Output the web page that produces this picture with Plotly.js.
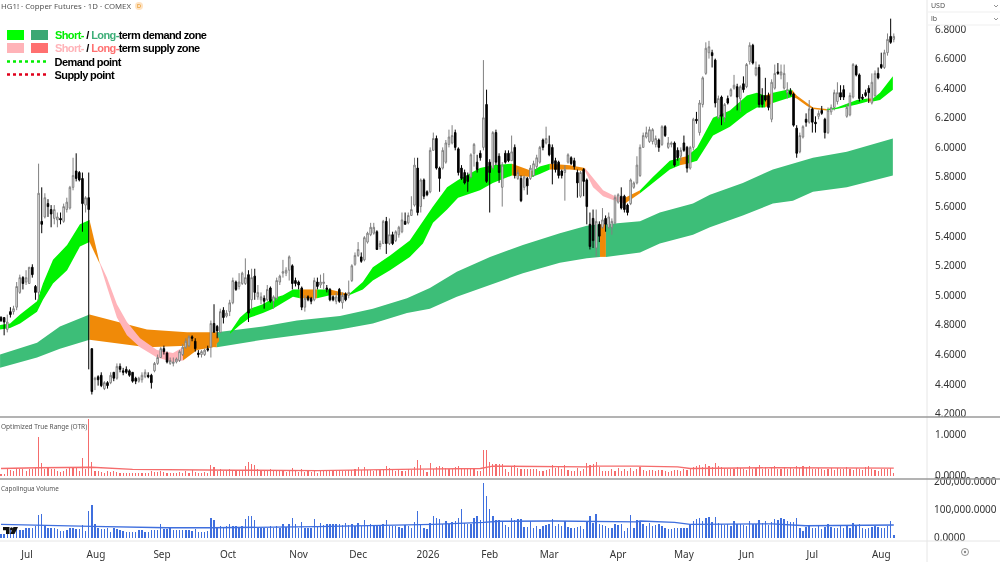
<!DOCTYPE html>
<html><head><meta charset="utf-8">
<script src="https://cdn.plot.ly/plotly-3.0.1.min.js"></script>
<style>html,body{margin:0;padding:0;background:#fff}#c{width:1000px;height:562px;filter:blur(.3px)}
.annotation[data-index="2"] text,.annotation[data-index="3"] text,.annotation[data-index="4"] text,.annotation[data-index="5"] text{letter-spacing:-.6px}</style>
</head><body><div id="c"></div>
<script>
const opens=[4.85,4.85,4.77,4.89,4.89,4.92,5.02,5.12,5.09,5.08,
5.19,5.06,5.02,5.50,5.53,5.62,5.58,5.52,5.51,5.52,
5.50,5.58,5.59,5.73,5.84,5.83,5.79,5.61,5.66,4.64,
4.43,4.45,4.46,4.37,4.41,4.41,4.48,4.44,4.52,4.49,
4.50,4.49,4.48,4.44,4.42,4.43,4.45,4.46,4.46,4.49,
4.54,4.58,4.64,4.61,4.54,4.54,4.55,4.56,4.60,4.65,
4.66,4.72,4.69,4.61,4.60,4.60,4.64,4.65,4.81,4.79,
4.75,4.90,4.86,4.89,4.95,5.09,5.06,5.08,5.08,5.14,
4.97,5.13,4.99,4.97,4.98,4.97,5.05,4.96,4.98,5.09,
5.15,5.15,5.17,5.20,5.10,5.09,5.05,4.92,4.99,4.98,
4.97,5.09,5.07,5.08,5.05,5.04,4.99,4.96,5.04,4.95,
5.01,5.00,5.10,5.21,5.27,5.26,5.24,5.36,5.41,5.42,
5.43,5.33,5.35,5.50,5.35,5.41,5.37,5.41,5.43,5.50,
5.49,5.54,5.61,5.86,5.60,5.78,5.70,5.70,5.98,6.06,
5.86,5.86,5.90,6.02,6.03,6.10,5.99,5.86,5.83,5.81,
5.80,5.96,5.90,5.96,6.00,6.29,5.90,5.86,6.10,5.94,
5.73,5.96,5.96,5.91,6.00,5.79,5.79,5.73,5.79,5.79,
5.81,5.87,5.90,6.05,6.03,6.02,6.00,5.91,5.90,5.84,
5.83,5.90,5.93,5.91,5.83,5.67,5.85,5.78,5.48,5.52,
5.32,5.48,5.46,5.52,5.46,5.46,5.49,5.63,5.67,5.67,
5.61,5.62,5.73,5.76,5.81,6.00,6.07,6.04,6.04,6.02,
6.05,6.02,6.14,6.00,6.02,6.03,5.98,5.94,6.03,6.00,
5.86,6.00,6.19,6.10,6.29,6.50,6.64,6.64,6.59,6.20,
6.34,6.20,6.33,6.35,6.40,6.41,6.33,6.43,6.41,6.58,
6.69,6.49,6.54,6.35,6.35,6.35,6.19,6.40,6.51,6.49,
6.40,6.37,6.38,6.36,6.13,5.97,6.07,6.19,6.17,6.26,
6.17,6.21,6.25,6.19,6.10,6.24,6.27,6.31,6.37,6.39,
6.21,6.22,6.34,6.55,6.49,6.34,6.37,6.40,6.30,6.35,
6.50,6.56,6.54,6.64,6.75,6.73];
const highs=[4.86,4.85,4.87,4.92,4.93,5.09,5.14,5.13,5.17,5.19,
5.21,5.07,5.89,5.73,5.69,5.65,5.61,5.61,5.56,5.56,
5.62,5.66,5.74,5.93,5.96,5.84,5.83,5.67,5.83,4.64,
4.45,4.46,4.48,4.42,4.42,4.48,4.48,4.54,4.54,4.51,
4.52,4.50,4.48,4.45,4.45,4.48,4.50,4.48,4.47,4.55,
4.60,4.65,4.66,4.62,4.58,4.58,4.58,4.63,4.67,4.71,
4.73,4.73,4.71,4.63,4.63,4.64,4.66,4.83,4.94,4.80,
4.91,4.92,4.90,4.97,5.12,5.10,5.15,5.16,5.25,5.17,
5.18,5.18,5.07,5.02,5.00,5.07,5.06,5.00,5.12,5.14,
5.24,5.19,5.27,5.21,5.12,5.10,5.06,5.00,5.00,4.99,
5.12,5.12,5.14,5.15,5.07,5.05,5.00,5.02,5.05,5.02,
5.02,5.10,5.21,5.29,5.36,5.29,5.40,5.43,5.49,5.49,
5.44,5.37,5.51,5.53,5.52,5.43,5.44,5.47,5.56,5.56,
5.56,5.67,5.93,5.93,5.79,5.79,5.71,6.00,6.10,6.08,
5.87,6.00,6.05,6.12,6.15,6.12,6.00,5.88,5.85,5.83,
5.96,6.03,5.95,5.98,6.59,6.39,5.92,6.11,6.12,5.96,
5.90,5.98,5.98,6.08,6.02,5.85,5.81,5.81,5.80,5.88,
5.91,5.95,6.01,6.06,6.14,6.08,6.02,5.93,5.91,5.85,
5.88,5.96,5.94,5.93,5.85,5.84,5.86,5.79,5.56,5.58,
5.58,5.50,5.59,5.54,5.56,5.52,5.68,5.69,5.73,5.68,
5.62,5.79,5.77,5.94,6.02,6.10,6.14,6.14,6.13,6.08,
6.06,6.15,6.15,6.07,6.04,6.04,6.00,6.00,6.08,6.01,
6.01,6.20,6.24,6.32,6.48,6.71,6.72,6.66,6.60,6.35,
6.35,6.30,6.35,6.40,6.49,6.43,6.42,6.48,6.57,6.71,
6.70,6.58,6.56,6.40,6.47,6.37,6.46,6.56,6.57,6.56,
6.56,6.44,6.40,6.37,6.15,6.10,6.15,6.23,6.32,6.27,
6.21,6.25,6.28,6.20,6.27,6.29,6.39,6.44,6.42,6.42,
6.29,6.37,6.57,6.56,6.50,6.36,6.39,6.42,6.50,6.52,
6.54,6.64,6.66,6.77,6.87,6.77];
const lows=[4.82,4.73,4.75,4.85,4.87,4.90,5.01,5.04,5.07,5.08,
5.12,4.97,4.97,5.42,5.52,5.53,5.46,5.48,5.46,5.48,
5.49,5.56,5.58,5.71,5.77,5.77,5.43,5.56,4.50,4.33,
4.36,4.39,4.38,4.36,4.37,4.40,4.42,4.43,4.48,4.46,
4.47,4.45,4.41,4.40,4.41,4.41,4.44,4.44,4.37,4.48,
4.53,4.58,4.60,4.54,4.53,4.52,4.54,4.55,4.59,4.64,
4.65,4.69,4.62,4.58,4.58,4.59,4.62,4.58,4.75,4.71,
4.75,4.81,4.85,4.86,4.94,5.03,5.04,5.07,5.07,4.82,
4.90,4.97,4.97,4.94,4.91,4.96,4.95,4.91,4.97,5.07,
5.12,5.13,5.10,5.04,5.06,5.04,4.90,4.89,4.96,4.94,
4.96,5.04,5.05,5.04,5.02,4.96,4.96,4.94,4.95,4.91,
4.96,4.98,5.09,5.20,5.26,5.22,5.23,5.35,5.40,5.41,
5.31,5.31,5.35,5.28,5.34,5.34,5.36,5.39,5.42,5.48,
5.48,5.54,5.60,5.54,5.56,5.65,5.67,5.69,5.98,5.85,
5.70,5.85,5.89,6.00,6.02,5.98,5.81,5.78,5.75,5.70,
5.79,5.87,5.83,5.91,5.98,5.76,5.56,5.85,5.88,5.76,
5.60,5.89,5.90,5.91,5.79,5.78,5.63,5.71,5.68,5.78,
5.80,5.85,5.89,5.98,6.02,5.94,5.75,5.83,5.79,5.79,
5.64,5.89,5.88,5.85,5.66,5.66,5.67,5.48,5.31,5.32,
5.26,5.36,5.45,5.43,5.45,5.41,5.48,5.62,5.58,5.56,
5.54,5.61,5.72,5.75,5.80,6.00,6.06,6.03,6.02,6.00,
5.97,6.01,6.07,5.99,6.00,5.87,5.91,5.91,5.97,5.83,
5.85,5.98,6.16,6.08,6.27,6.49,6.60,6.54,6.27,6.19,
6.15,6.17,6.29,6.34,6.39,6.25,6.24,6.37,6.40,6.56,
6.56,6.48,6.27,6.27,6.31,6.25,6.17,6.39,6.49,6.46,
6.39,6.33,6.35,6.14,5.93,5.96,6.06,6.14,6.16,6.10,
6.10,6.19,6.22,6.06,6.09,6.22,6.25,6.29,6.32,6.32,
6.20,6.21,6.33,6.48,6.31,6.32,6.34,6.30,6.29,6.34,
6.46,6.53,6.53,6.62,6.70,6.71];
const closes=[4.83,4.82,4.82,4.87,4.91,5.06,5.12,5.08,5.12,5.19,
5.14,5.02,5.69,5.48,5.66,5.60,5.55,5.58,5.53,5.51,
5.60,5.63,5.73,5.81,5.79,5.78,5.62,5.66,5.58,4.35,
4.44,4.43,4.39,4.41,4.39,4.46,4.44,4.52,4.50,4.48,
4.48,4.46,4.42,4.42,4.44,4.46,4.48,4.45,4.41,4.54,
4.58,4.64,4.62,4.55,4.56,4.55,4.57,4.62,4.65,4.69,
4.72,4.71,4.64,4.60,4.62,4.63,4.63,4.81,4.75,4.76,
4.89,4.85,4.88,4.95,5.10,5.04,5.09,5.15,5.12,4.88,
5.12,5.02,5.02,4.99,4.96,5.04,4.96,4.99,5.10,5.13,
5.16,5.17,5.26,5.08,5.08,5.07,4.92,4.98,4.97,4.96,
5.10,5.06,5.09,5.09,5.04,4.97,4.97,4.99,4.96,5.00,
4.97,5.02,5.20,5.27,5.31,5.23,5.39,5.42,5.46,5.46,
5.31,5.35,5.50,5.35,5.41,5.35,5.43,5.46,5.51,5.48,
5.54,5.58,5.88,5.56,5.78,5.67,5.68,5.98,6.06,5.86,
5.79,5.98,6.03,6.07,6.08,6.00,5.83,5.79,5.76,5.77,
5.95,6.02,5.85,5.93,6.20,5.77,5.83,6.10,5.90,5.83,
5.88,5.90,5.91,5.97,5.81,5.83,5.64,5.80,5.74,5.86,
5.89,5.93,6.00,6.00,6.06,5.95,5.89,5.85,5.81,5.81,
5.85,5.95,5.89,5.87,5.76,5.83,5.77,5.60,5.33,5.37,
5.50,5.40,5.51,5.48,5.53,5.50,5.66,5.68,5.59,5.58,
5.56,5.78,5.76,5.88,6.00,6.08,6.10,6.12,6.12,6.06,
6.00,6.14,6.08,6.03,6.03,5.88,5.93,5.98,5.98,5.86,
6.00,6.19,6.18,6.30,6.47,6.67,6.68,6.62,6.30,6.33,
6.21,6.29,6.30,6.39,6.42,6.34,6.41,6.39,6.56,6.69,
6.57,6.54,6.29,6.29,6.32,6.27,6.44,6.50,6.50,6.51,
6.50,6.39,6.36,6.15,5.96,6.08,6.14,6.17,6.26,6.17,
6.16,6.23,6.23,6.10,6.25,6.27,6.37,6.37,6.34,6.34,
6.27,6.35,6.56,6.49,6.33,6.33,6.35,6.37,6.44,6.50,
6.47,6.54,6.64,6.73,6.71,6.75];
const otr=[.03,.04,.15,.14,.10,.18,.15,.15,.11,.16,
.15,.18,.95,.31,.16,.18,.16,.15,.11,.08,
.11,.15,.20,.20,.18,.11,.42,.16,1.37,.33,
.11,.10,.08,.07,.10,.08,.10,.08,.07,.07,
.05,.06,.07,.05,.05,.06,.07,.07,.10,.09,
.08,.11,.09,.07,.07,.06,.07,.08,.07,.10,
.05,.13,.08,.07,.06,.08,.07,.26,.20,.11,
.16,.10,.13,.16,.13,.11,.10,.11,.23,.34,
.28,.26,.15,.13,.11,.11,.15,.11,.10,.10,
.11,.08,.10,.18,.10,.08,.15,.08,.10,.08,
.10,.07,.12,.11,.11,.13,.12,.11,.13,.11,
.11,.13,.14,.17,.20,.14,.20,.13,.13,.12,
.13,.14,.13,.23,.18,.14,.12,.13,.12,.11,
.15,.13,.20,.37,.26,.13,.08,.31,.15,.20,
.23,.21,.18,.16,.15,.20,.24,.18,.16,.16,
.15,.15,.12,.12,.63,.63,.34,.28,.27,.27,
.29,.16,.08,.20,.26,.18,.16,.15,.15,.16,
.15,.15,.11,.11,.13,.15,.26,.18,.20,.15,
.26,.13,.11,.11,.18,.11,.15,.31,.26,.28,
.34,.20,.11,.11,.11,.15,.11,.18,.10,.15,
.11,.18,.10,.15,.20,.14,.12,.13,.14,.12,
.13,.14,.10,.09,.11,.13,.14,.12,.15,.13,
.18,.20,.22,.25,.20,.27,.22,.20,.31,.22,
.20,.18,.17,.16,.15,.20,.18,.15,.13,.22,
.16,.18,.25,.16,.20,.15,.18,.22,.17,.15,
.20,.16,.18,.16,.22,.18,.22,.20,.22,.17,
.15,.18,.15,.14,.15,.18,.14,.18,.16,.15,
.20,.15,.14,.18,.16,.14,.20,.22,.15,.14,
.12,.15,.17,.16,.18,.05];
const volumeM=[12,14,14,29,18,38,26,26,35,33,
33,41,80,82,41,35,33,33,29,24,
24,26,35,33,29,31,45,24,94,114,
49,33,31,29,35,21,33,29,26,24,
21,21,21,21,28,26,21,21,26,28,
28,49,29,31,33,26,28,26,28,26,
26,24,31,21,19,21,24,71,61,38,
40,38,42,49,42,40,38,41,66,76,
76,61,35,35,35,35,40,35,40,35,
49,38,47,68,49,33,56,35,33,35,
65,38,53,45,49,47,47,49,47,45,
52,45,49,41,53,42,61,45,49,41,
41,42,47,61,42,40,40,38,33,45,
41,33,56,96,49,33,31,53,78,71,
65,47,59,47,56,59,68,100,53,47,
47,68,76,61,194,147,103,76,61,61,
59,45,38,71,61,65,65,38,38,59,
35,41,29,41,45,47,65,41,47,41,
59,38,33,33,38,41,29,59,76,53,
85,47,45,41,35,35,49,45,47,24,
35,80,35,61,59,47,41,53,41,45,
47,41,35,29,29,33,35,33,35,35,
49,59,65,71,59,71,73,56,73,53,
49,45,47,41,59,49,47,45,41,59,
47,49,61,53,59,45,56,65,61,68,
65,59,56,56,70,35,24,38,41,35,
35,45,29,38,47,38,33,35,40,33,
41,35,53,41,47,35,29,35,38,41,
38,33,35,41,59,9];
const otrAvgAt=[0,12,29,42,75,101,133,153,157,187,190,203,216,220,246,285];
const otrAvg=[.17,.19,.20,.15,.13,.12,.155,.17,.23,.21,.23,.23,.21,.17,.19,.18];
const volAvgAt=[0,12,29,53,67,101,138,154,159,176,203,204,215,220,246,257,285];
const volAvg=[47,45,40,35,35,39,47,54,58,59,56,59,54,47,49,42,45];

// zones: kind applies from a knot to the next one (g demand, o mixed, p supply, n none)
const shortAt=[-.3,2.9,6.1,11.5,13.4,16.6,21.1,25.2,28.25,31.6,33.8,37,40.2,44.4,49.8,54.9,58.1,62.6,67.7,69.6,73.1,76.3,79.5,83.6,86.8,90,93.2,95.4,100.9,105,111.1,115.5,118.7,124.2,130.5,134.7,137.9,142.4,145.9,152.9,157,163.1,169.5,172,175.2,181.6,186.4,189,192.2,196,199.2,204,208.1,213.5,216.7,219,222.2,227.3,232.7,238.1,241.3,243.9,246.4,250.9,252.5,254,257.3,259.2,263.6,266.8,273.2,276.7,278.3,280.6,284.7];
const shortHi=[4.80,4.81,4.87,4.96,5.08,5.24,5.34,5.48,5.51,5.22,5.12,4.94,4.82,4.71,4.63,4.61,4.65,4.71,4.75,4.71,4.75,4.85,4.91,4.94,4.98,5.00,5.04,5.04,5.04,5.04,5.01,5.09,5.19,5.27,5.37,5.50,5.60,5.73,5.78,5.86,5.88,5.89,5.84,5.87,5.89,5.88,5.86,5.79,5.71,5.67,5.66,5.71,5.80,5.91,5.93,5.94,6.00,6.20,6.25,6.35,6.37,6.35,6.37,6.39,6.39,6.35,6.30,6.27,6.26,6.27,6.32,6.33,6.33,6.37,6.48];
const shortLo=[4.77,4.78,4.81,4.89,4.97,5.08,5.17,5.33,5.36,5.21,5.06,4.85,4.73,4.65,4.58,4.55,4.56,4.63,4.65,4.69,4.74,4.80,4.85,4.88,4.91,4.95,4.99,4.98,4.98,5.00,5.00,5.04,5.10,5.17,5.26,5.35,5.49,5.58,5.66,5.71,5.76,5.81,5.80,5.82,5.85,5.85,5.84,5.73,5.67,5.64,5.62,5.69,5.76,5.85,5.88,5.89,5.91,6.08,6.14,6.23,6.27,6.27,6.30,6.33,6.34,6.33,6.28,6.26,6.25,6.26,6.29,6.31,6.31,6.32,6.39];
const shortKind=['g','g','g','g','g','g','g','g','o','p','p','p','p','p','p','p','o','o','o','n','g','g','g','g','g','g','g','o','g','o','g','g','g','g','g','g','g','g','g','g','g','o','g','g','o','o','p','p','p','p','o','g','g','g','o','g','g','g','g','g','g','o','g','g','o','o','o','o','g','g','g','o','g','g'];
const longAt=[-.3,11.5,18.8,28.25,46.6,59.4,68.9,83.6,94.5,108.2,118.7,129.6,136.9,145.5,156.1,166.6,178.4,187,191.2,193.1,204,210.3,220.9,226.3,236.8,246.4,252.8,259.2,270,284.7];
const longHi=[4.60,4.68,4.79,4.87,4.77,4.75,4.75,4.79,4.83,4.86,4.91,4.98,5.05,5.16,5.26,5.34,5.42,5.47,5.48,5.48,5.50,5.56,5.62,5.68,5.76,5.85,5.89,5.93,5.97,6.06];
const longLo=[4.51,4.58,4.64,4.70,4.65,4.66,4.65,4.70,4.73,4.77,4.81,4.88,4.91,4.99,5.07,5.15,5.22,5.25,5.26,5.26,5.29,5.35,5.41,5.46,5.54,5.62,5.64,5.70,5.73,5.81];
const longKind=['g','g','g','o','o','o','g','g','g','g','g','g','g','g','g','g','g','g','o','g','g','g','g','g','g','g','g','g','g'];

const xTickAt=[8.3,30.3,51.4,72.5,95,114,136.3,156,175,197,218,238,259,281];
const xTickText=['Jul','Aug','Sep','Oct','Nov','Dec','2026','Feb','Mar','Apr','May','Jun','Jul','Aug'];
const priceTicks=[4.2,4.4,4.6,4.8,5.0,5.2,5.4,5.6,5.8,6.0,6.2,6.4,6.6,6.8];
const volTickVals=[0,100,200];
const volTickText=['0.0000','100,000.0000','200,000.0000'];

const FONT='"Noto Sans", sans-serif';
const COL={shortg:'#00F200',longg:'#3DBE78',o:'#F08A08',p:'#FFB4BA'};
const X=p=>p/1000, Y=p=>1-p/562;
const idx=opens.map((_,i)=>i);

function bands(at,hi,lo,kind,green){
  const out=[];let s=0;
  for(let k=1;k<=kind.length;k++){
    if(k===kind.length||kind[k]!==kind[s]){
      const c=kind[s];
      if(c!=='n'){
        const xs=at.slice(s,k+1),a=hi.slice(s,k+1),b=lo.slice(s,k+1);
        out.push({type:'scatter',mode:'lines',x:xs.concat(xs.slice().reverse()),y:a.concat(b.slice().reverse()),
          fill:'toself',fillcolor:c==='g'?green:COL[c],line:{width:0},hoverinfo:'skip',showlegend:false,xaxis:'x',yaxis:'y'});
      }
      s=k;
    }
  }
  return out;
}
const traces=[].concat(
  bands(longAt,longHi,longLo,longKind,COL.longg),
  bands(shortAt,shortHi,shortLo,shortKind,COL.shortg),
  [{type:'candlestick',x:idx,open:opens,high:highs,low:lows,close:closes,xaxis:'x',yaxis:'y4',
    increasing:{line:{color:'#808080',width:1},fillcolor:'#ffffff'},
    decreasing:{line:{color:'#000000',width:1},fillcolor:'#000000'},
    whiskerwidth:0,showlegend:false,hoverinfo:'skip'},
   {type:'bar',x:idx,y:otr,xaxis:'x',yaxis:'y2',width:.36,marker:{color:'#F56C6C',line:{width:0}},showlegend:false,hoverinfo:'skip'},
   {type:'scatter',mode:'lines',x:otrAvgAt,y:otrAvg,xaxis:'x',yaxis:'y2',line:{color:'#F56C6C',width:1.4},showlegend:false,hoverinfo:'skip'},
   {type:'bar',x:idx,y:volumeM,xaxis:'x',yaxis:'y3',width:.46,marker:{color:'#3F6FDE',line:{width:0}},showlegend:false,hoverinfo:'skip'},
   {type:'scatter',mode:'lines',x:volAvgAt,y:volAvg,xaxis:'x',yaxis:'y3',line:{color:'#3F6FDE',width:1.4},showlegend:false,hoverinfo:'skip'}]
);

const T=(px,py,text,size,color,extra)=>Object.assign({xref:'paper',yref:'paper',x:X(px),y:Y(py),text,showarrow:false,xanchor:'left',yanchor:'middle',
  font:{family:FONT,size,color},borderpad:0,borderwidth:0},extra||{});
const LEG={family:'"Liberation Sans",sans-serif',size:11,color:'#000',weight:700};
const S=(o)=>Object.assign({xref:'paper',yref:'paper',layer:'above'},o);
const rect=(x0,y0,x1,y1,fill)=>S({type:'rect',x0:X(x0),x1:X(x1),y0:Y(y0),y1:Y(y1),fillcolor:fill,line:{width:0}});
const hline=(x0,x1,y,c,w,dash)=>S({type:'line',x0:X(x0),x1:X(x1),y0:Y(y),y1:Y(y),line:{color:c,width:w,dash:dash||'solid'}});
const vline=(x,y0,y1,c,w)=>S({type:'line',x0:X(x),x1:X(x),y0:Y(y0),y1:Y(y1),line:{color:c,width:w}});
const poly=(pts,fill)=>S({type:'path',path:'M'+pts.map(p=>X(p[0])+','+Y(p[1])).join('L')+'Z',fillcolor:fill,line:{width:0}});
const chevron=(x,y)=>S({type:'path',path:'M'+X(x-2)+','+Y(y-1)+'L'+X(x)+','+Y(y+1)+'L'+X(x+2)+','+Y(y-1),line:{color:'#777',width:.8}});
const TICK={family:FONT,size:10,color:'#333'};

const layout={
  width:1000,height:562,margin:{l:0,r:0,t:0,b:0,pad:0},paper_bgcolor:'#fff',plot_bgcolor:'#fff',showlegend:false,bargap:0,
  font:{family:FONT,size:10,color:'#333'},
  xaxis:{domain:[0,.927],range:[-.32,295.6],anchor:'y3',tickmode:'array',tickvals:xTickAt,ticktext:xTickText,tickangle:0,
    showgrid:false,zeroline:false,showline:false,ticks:'outside',ticklen:4,tickcolor:'rgba(0,0,0,0)',rangeslider:{visible:false},tickfont:TICK},
  yaxis:{domain:[Y(417),1],range:[4.178,6.996],side:'right',anchor:'x',tickmode:'array',tickvals:priceTicks,tickformat:'.4f',
    showgrid:false,zeroline:false,showline:false,ticks:'outside',ticklen:5,tickcolor:'rgba(0,0,0,0)',tickfont:TICK},
  yaxis4:{domain:[Y(417),1],range:[4.178,6.996],overlaying:'y',side:'right',anchor:'x',visible:false},
  yaxis2:{domain:[Y(479),Y(417)],range:[-.085,1.427],side:'right',anchor:'x',tickmode:'array',tickvals:[0,1],tickformat:'.4f',
    showgrid:false,zeroline:false,showline:false,ticks:'outside',ticklen:5,tickcolor:'rgba(0,0,0,0)',tickfont:TICK},
  yaxis3:{domain:[Y(541),Y(479)],range:[-11.66,207.4],side:'right',anchor:'x',tickmode:'array',tickvals:volTickVals,ticktext:volTickText,
    showgrid:false,zeroline:false,showline:false,ticks:'outside',ticklen:4,tickcolor:'rgba(0,0,0,0)',tickfont:TICK},
  shapes:[
    rect(928,0,1000,25,'#fff'),
    vline(927,0,562,'#E6E6E6',1),
    hline(928,1000,12,'#EFEFEF',1),
    hline(928,1000,25,'#EFEFEF',1),
    hline(0,1000,417,'#9A9A9A',1.5),
    hline(0,1000,479,'#9A9A9A',1.5),
    hline(0,1000,541,'#E6E6E6',1),
    // legend keys
    rect(7,30,24,40,'#00FF00'),rect(31,30,48,40,'#3BA874'),
    rect(7,43,24,53,'#FFB3B8'),rect(31,43,48,53,'#FF7070'),
    hline(7,48,61.5,'#00EE00',2.5,'dot'),hline(7,48,74.5,'#E0001B',2.5,'dot'),
    // source badge
    S({type:'circle',x0:X(135),x1:X(143),y0:Y(10),y1:Y(2),fillcolor:'#FFE3C2',line:{width:0}}),
    // logo
    poly([[3,527],[9.5,527],[9.5,534],[6,534],[6,530.3],[3,530.3]],'#111'),
    S({type:'circle',x0:X(10),x1:X(13),y0:Y(530.5),y1:Y(527.2),fillcolor:'#111',line:{width:0}}),
    poly([[13.5,527],[18,527],[14.5,534],[10.2,534]],'#111'),
    // settings glyph
    S({type:'circle',x0:X(961.5),x1:X(968.5),y0:Y(555.5),y1:Y(548.5),fillcolor:'rgba(0,0,0,0)',line:{color:'#777',width:.8}}),
    S({type:'circle',x0:X(963.8),x1:X(966.2),y0:Y(553.2),y1:Y(550.8),fillcolor:'#888',line:{width:0}}),
    chevron(996,6),chevron(996,19)
  ],
  annotations:[
    T(1,6.5,'HG1! · Copper Futures · 1D · COMEX',7.8,'#555'),
    T(137.4,6,'D',5.5,'#E08A10'),
    T(46,35.5,'<span style="color:#00EE00">Short-</span> / <span style="color:#3DAE78">Long-</span>term demand zone',12,'#000',{font:LEG}),
    T(46,48.5,'<span style="color:#FFB3B8">Short-</span> / <span style="color:#FF7070">Long-</span>term supply zone',12,'#000',{font:LEG}),
    T(51.4,62,'Demand point',12,'#000',{font:LEG}),
    T(51.4,75,'Supply point',12,'#000',{font:LEG}),
    T(1,426,'Optimized True Range (OTR)',6.5,'#555'),
    T(1,488,'Capolingua Volume',6.3,'#555'),
    T(931,6,'USD',7,'#555'),
    T(931,18,'lb',7,'#555')
  ]
};
Plotly.newPlot('c',traces,layout,{displayModeBar:false,staticPlot:true});
</script></body></html>
